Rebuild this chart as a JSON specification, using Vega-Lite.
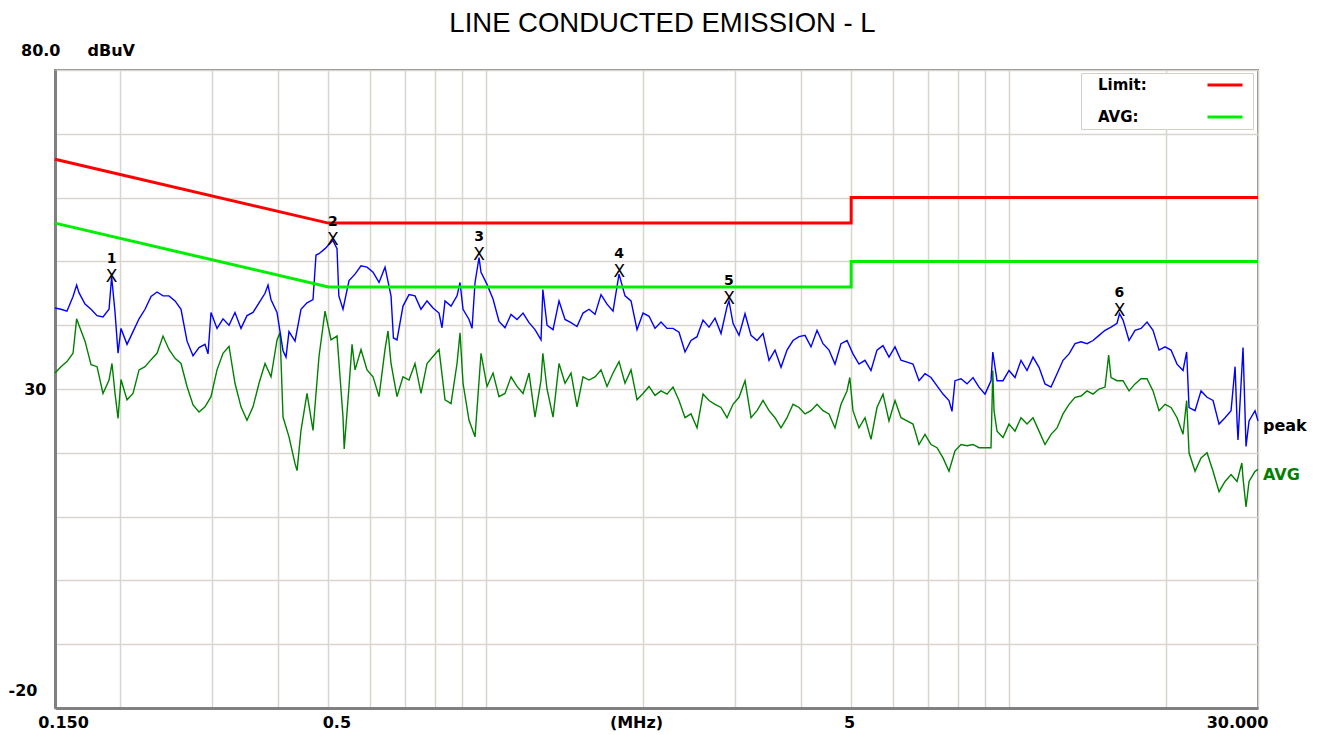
{
  "$schema": "https://vega.github.io/schema/vega-lite/v6.json",
  "width": 1203,
  "height": 638,
  "autosize": {"type": "none"},
  "padding": {"left": 55, "top": 70, "right": 62, "bottom": 27},
  "background": "white",
  "title": {"text": "LINE CONDUCTED EMISSION - L", "font": "Liberation Sans", "fontSize": 27.5, "fontWeight": "normal", "color": "black", "anchor": "middle", "baseline": "alphabetic", "offset": -17, "dx": 6},
  "config": {"view": {"stroke": "#8a8a8a", "strokeWidth": 2}},
  "datasets": {
    "limits": [
      {"s": "Limit:", "f": 0.15, "v": 66}, {"s": "Limit:", "f": 0.5, "v": 56}, {"s": "Limit:", "f": 5, "v": 56}, {"s": "Limit:", "f": 5, "v": 60}, {"s": "Limit:", "f": 30, "v": 60},
      {"s": "AVG:", "f": 0.15, "v": 56}, {"s": "AVG:", "f": 0.5, "v": 46}, {"s": "AVG:", "f": 5, "v": 46}, {"s": "AVG:", "f": 5, "v": 50}, {"s": "AVG:", "f": 30, "v": 50}
    ],
    "peak": [
      {"f":0.15,"v":42.7},{"f":0.154,"v":42.5},{"f":0.1581,"v":42.2},{"f":0.1624,"v":44.5},{"f":0.165,"v":46.3},{"f":0.1667,"v":45.1},{"f":0.1712,"v":43.3},{"f":0.1758,"v":42.5},{"f":0.1805,"v":41.5},{"f":0.1853,"v":41.3},{"f":0.1903,"v":42.5},{"f":0.1925,"v":47.6},{"f":0.1954,"v":42.0},{"f":0.198,"v":35.6},{"f":0.2006,"v":39.5},{"f":0.206,"v":37.0},{"f":0.2115,"v":39.0},{"f":0.2172,"v":41.0},{"f":0.223,"v":42.5},{"f":0.229,"v":44.5},{"f":0.2351,"v":45.2},{"f":0.2414,"v":44.6},{"f":0.2478,"v":44.6},{"f":0.2545,"v":43.8},{"f":0.2613,"v":42.5},{"f":0.2683,"v":37.5},{"f":0.2755,"v":35.2},{"f":0.2828,"v":36.5},{"f":0.2904,"v":37.0},{"f":0.2943,"v":35.5},{"f":0.2982,"v":42.0},{"f":0.3062,"v":39.5},{"f":0.3144,"v":41.0},{"f":0.3228,"v":40.0},{"f":0.3314,"v":42.0},{"f":0.3403,"v":39.5},{"f":0.3494,"v":41.5},{"f":0.3588,"v":42.0},{"f":0.3684,"v":43.5},{"f":0.3783,"v":45.0},{"f":0.3833,"v":46.3},{"f":0.3884,"v":44.0},{"f":0.3988,"v":42.0},{"f":0.4095,"v":36.0},{"f":0.4149,"v":35.0},{"f":0.4204,"v":39.0},{"f":0.4317,"v":37.5},{"f":0.4432,"v":42.5},{"f":0.4551,"v":43.5},{"f":0.4673,"v":44.0},{"f":0.4735,"v":51.0},{"f":0.4798,"v":51.2},{"f":0.4927,"v":52.0},{"f":0.5059,"v":53.0},{"f":0.51,"v":53.3},{"f":0.5194,"v":52.0},{"f":0.5236,"v":44.6},{"f":0.5333,"v":42.5},{"f":0.5476,"v":47.0},{"f":0.5623,"v":48.0},{"f":0.5773,"v":49.3},{"f":0.5928,"v":49.1},{"f":0.6087,"v":48.3},{"f":0.625,"v":46.7},{"f":0.6417,"v":49.1},{"f":0.6589,"v":44.6},{"f":0.6659,"v":38.0},{"f":0.6765,"v":37.7},{"f":0.6946,"v":43.0},{"f":0.7133,"v":44.8},{"f":0.7323,"v":44.6},{"f":0.7519,"v":42.5},{"f":0.7721,"v":43.8},{"f":0.7928,"v":42.7},{"f":0.814,"v":41.9},{"f":0.8248,"v":39.6},{"f":0.8358,"v":43.8},{"f":0.8582,"v":43.0},{"f":0.8812,"v":44.6},{"f":0.8929,"v":46.7},{"f":0.9048,"v":42.5},{"f":0.929,"v":40.9},{"f":0.9414,"v":39.5},{"f":0.9539,"v":46.7},{"f":0.9709,"v":50.6},{"f":0.9794,"v":48.3},{"f":1.0056,"v":46.4},{"f":1.0326,"v":44.1},{"f":1.0602,"v":40.6},{"f":1.0886,"v":39.6},{"f":1.1178,"v":41.7},{"f":1.1477,"v":40.9},{"f":1.1785,"v":41.9},{"f":1.21,"v":40.4},{"f":1.2423,"v":39.3},{"f":1.2756,"v":37.7},{"f":1.286,"v":45.6},{"f":1.3098,"v":40.0},{"f":1.3449,"v":39.3},{"f":1.3809,"v":43.8},{"f":1.4178,"v":40.9},{"f":1.4558,"v":40.4},{"f":1.4948,"v":39.8},{"f":1.5348,"v":41.9},{"f":1.5759,"v":42.5},{"f":1.6181,"v":41.7},{"f":1.6615,"v":44.8},{"f":1.706,"v":43.3},{"f":1.7517,"v":42.2},{"f":1.7986,"v":48.0},{"f":1.8467,"v":44.6},{"f":1.8962,"v":43.8},{"f":1.947,"v":39.3},{"f":1.9991,"v":41.9},{"f":2.0527,"v":41.4},{"f":2.1075,"v":39.5},{"f":2.164,"v":40.5},{"f":2.2219,"v":39.5},{"f":2.2814,"v":39.5},{"f":2.3425,"v":38.9},{"f":2.4053,"v":35.8},{"f":2.4697,"v":37.6},{"f":2.5358,"v":38.2},{"f":2.6037,"v":40.8},{"f":2.6734,"v":39.7},{"f":2.745,"v":41.1},{"f":2.8185,"v":38.7},{"f":2.894,"v":42.9},{"f":2.919,"v":43.8},{"f":2.9715,"v":40.3},{"f":3.0511,"v":38.4},{"f":3.1328,"v":41.8},{"f":3.2167,"v":38.4},{"f":3.3028,"v":37.6},{"f":3.3913,"v":38.7},{"f":3.4821,"v":34.5},{"f":3.575,"v":36.1},{"f":3.671,"v":33.4},{"f":3.769,"v":36.1},{"f":3.87,"v":37.6},{"f":3.974,"v":38.2},{"f":4.08,"v":38.4},{"f":4.189,"v":36.6},{"f":4.302,"v":39.2},{"f":4.417,"v":37.1},{"f":4.535,"v":36.1},{"f":4.656,"v":33.9},{"f":4.781,"v":37.1},{"f":4.909,"v":37.6},{"f":5.04,"v":35.5},{"f":5.175,"v":33.9},{"f":5.314,"v":34.5},{"f":5.456,"v":32.9},{"f":5.602,"v":36.1},{"f":5.752,"v":36.8},{"f":5.906,"v":35.0},{"f":6.065,"v":36.6},{"f":6.227,"v":34.5},{"f":6.394,"v":34.2},{"f":6.565,"v":33.9},{"f":6.741,"v":31.3},{"f":6.921,"v":32.4},{"f":7.107,"v":31.8},{"f":7.297,"v":30.5},{"f":7.492,"v":29.2},{"f":7.693,"v":28.2},{"f":7.795,"v":26.5},{"f":7.899,"v":31.3},{"f":8.111,"v":31.6},{"f":8.328,"v":30.8},{"f":8.551,"v":31.8},{"f":8.78,"v":30.3},{"f":9.015,"v":29.2},{"f":9.256,"v":31.3},{"f":9.33,"v":35.8},{"f":9.504,"v":31.3},{"f":9.759,"v":31.3},{"f":10.02,"v":32.9},{"f":10.289,"v":31.8},{"f":10.564,"v":34.5},{"f":10.847,"v":32.9},{"f":11.138,"v":35.0},{"f":11.436,"v":33.4},{"f":11.742,"v":30.8},{"f":12.057,"v":30.3},{"f":12.38,"v":32.4},{"f":12.711,"v":34.5},{"f":13.052,"v":35.5},{"f":13.401,"v":37.1},{"f":13.76,"v":37.4},{"f":14.129,"v":37.1},{"f":14.507,"v":37.6},{"f":14.896,"v":38.4},{"f":15.295,"v":39.2},{"f":15.704,"v":39.7},{"f":16.125,"v":40.3},{"f":16.3,"v":41.8},{"f":16.557,"v":40.8},{"f":17.0,"v":37.6},{"f":17.454,"v":39.2},{"f":17.922,"v":39.5},{"f":18.402,"v":40.5},{"f":18.895,"v":39.2},{"f":19.401,"v":36.1},{"f":19.92,"v":36.6},{"f":20.454,"v":36.1},{"f":21.002,"v":33.9},{"f":21.564,"v":32.9},{"f":21.91,"v":35.8},{"f":22.142,"v":27.1},{"f":22.735,"v":26.6},{"f":23.344,"v":29.7},{"f":23.969,"v":28.7},{"f":24.611,"v":28.2},{"f":25.27,"v":24.5},{"f":25.947,"v":25.5},{"f":26.642,"v":26.6},{"f":27.12,"v":33.5},{"f":27.355,"v":25.0},{"f":27.47,"v":22.0},{"f":28.088,"v":36.5},{"f":28.46,"v":21.0},{"f":28.84,"v":25.0},{"f":29.61,"v":26.6},{"f":30,"v":25.0}
    ],
    "avg": [
      {"f":0.15,"v":32.5},{"f":0.154,"v":33.5},{"f":0.1581,"v":34.3},{"f":0.1624,"v":35.6},{"f":0.165,"v":41.0},{"f":0.1667,"v":40.0},{"f":0.1712,"v":37.5},{"f":0.1758,"v":33.8},{"f":0.1805,"v":33.5},{"f":0.1853,"v":29.3},{"f":0.1903,"v":31.4},{"f":0.1928,"v":34.0},{"f":0.1954,"v":29.3},{"f":0.198,"v":25.4},{"f":0.2006,"v":31.5},{"f":0.206,"v":28.3},{"f":0.2115,"v":29.3},{"f":0.2172,"v":33.0},{"f":0.223,"v":33.5},{"f":0.229,"v":34.6},{"f":0.2351,"v":35.6},{"f":0.2414,"v":38.3},{"f":0.2478,"v":36.2},{"f":0.2545,"v":34.8},{"f":0.2613,"v":34.0},{"f":0.2683,"v":30.4},{"f":0.2755,"v":27.5},{"f":0.2828,"v":26.4},{"f":0.2904,"v":27.2},{"f":0.2982,"v":28.8},{"f":0.3062,"v":33.0},{"f":0.3144,"v":35.6},{"f":0.3228,"v":36.7},{"f":0.3314,"v":30.9},{"f":0.3403,"v":27.2},{"f":0.3494,"v":25.1},{"f":0.3588,"v":27.2},{"f":0.3684,"v":30.9},{"f":0.3783,"v":34.0},{"f":0.3884,"v":31.9},{"f":0.3988,"v":37.7},{"f":0.4041,"v":38.8},{"f":0.4095,"v":25.6},{"f":0.4204,"v":22.5},{"f":0.4317,"v":18.3},{"f":0.4356,"v":17.2},{"f":0.4432,"v":23.5},{"f":0.4551,"v":29.3},{"f":0.4673,"v":23.5},{"f":0.4798,"v":35.1},{"f":0.4927,"v":42.2},{"f":0.5059,"v":37.7},{"f":0.5194,"v":38.3},{"f":0.5333,"v":25.6},{"f":0.5361,"v":20.6},{"f":0.5476,"v":30.4},{"f":0.555,"v":37.0},{"f":0.5623,"v":33.0},{"f":0.5773,"v":36.2},{"f":0.5928,"v":33.0},{"f":0.6087,"v":31.9},{"f":0.625,"v":28.8},{"f":0.6417,"v":36.2},{"f":0.6502,"v":39.1},{"f":0.6589,"v":34.0},{"f":0.6765,"v":28.8},{"f":0.6946,"v":31.9},{"f":0.7133,"v":31.4},{"f":0.7323,"v":34.0},{"f":0.7519,"v":29.3},{"f":0.7721,"v":34.0},{"f":0.7928,"v":35.1},{"f":0.814,"v":36.2},{"f":0.8358,"v":28.3},{"f":0.8582,"v":27.7},{"f":0.8812,"v":34.0},{"f":0.8929,"v":38.8},{"f":0.9048,"v":30.9},{"f":0.929,"v":25.1},{"f":0.9539,"v":22.5},{"f":0.9794,"v":35.6},{"f":1.0056,"v":30.4},{"f":1.0326,"v":32.5},{"f":1.0602,"v":28.8},{"f":1.0886,"v":29.3},{"f":1.1178,"v":31.9},{"f":1.1477,"v":30.4},{"f":1.1785,"v":29.3},{"f":1.21,"v":32.5},{"f":1.2423,"v":25.6},{"f":1.2756,"v":31.4},{"f":1.286,"v":35.6},{"f":1.3098,"v":30.0},{"f":1.3449,"v":25.6},{"f":1.3809,"v":34.0},{"f":1.4178,"v":30.9},{"f":1.4558,"v":32.5},{"f":1.4948,"v":27.2},{"f":1.5348,"v":31.9},{"f":1.5759,"v":31.4},{"f":1.6181,"v":31.9},{"f":1.6615,"v":33.0},{"f":1.706,"v":30.4},{"f":1.7517,"v":32.5},{"f":1.7986,"v":34.3},{"f":1.8467,"v":30.9},{"f":1.8962,"v":33.0},{"f":1.947,"v":28.3},{"f":1.9991,"v":29.3},{"f":2.0527,"v":30.4},{"f":2.1075,"v":29.0},{"f":2.164,"v":29.7},{"f":2.2219,"v":29.2},{"f":2.2814,"v":30.3},{"f":2.3425,"v":28.2},{"f":2.4053,"v":25.5},{"f":2.4697,"v":26.1},{"f":2.5358,"v":23.9},{"f":2.6037,"v":29.2},{"f":2.6734,"v":28.2},{"f":2.745,"v":27.6},{"f":2.8185,"v":27.1},{"f":2.894,"v":25.5},{"f":2.9715,"v":27.6},{"f":3.0511,"v":28.7},{"f":3.1328,"v":31.3},{"f":3.2167,"v":25.5},{"f":3.3028,"v":26.6},{"f":3.3913,"v":28.2},{"f":3.4821,"v":26.6},{"f":3.575,"v":25.5},{"f":3.671,"v":23.9},{"f":3.769,"v":25.5},{"f":3.87,"v":27.6},{"f":3.974,"v":27.1},{"f":4.08,"v":26.1},{"f":4.189,"v":26.6},{"f":4.302,"v":27.6},{"f":4.417,"v":26.6},{"f":4.535,"v":26.1},{"f":4.656,"v":23.9},{"f":4.781,"v":27.6},{"f":4.909,"v":29.7},{"f":4.97,"v":31.8},{"f":5.04,"v":26.6},{"f":5.175,"v":23.9},{"f":5.314,"v":25.5},{"f":5.456,"v":22.1},{"f":5.602,"v":27.1},{"f":5.752,"v":29.2},{"f":5.906,"v":25.0},{"f":6.065,"v":28.2},{"f":6.227,"v":25.5},{"f":6.394,"v":25.0},{"f":6.565,"v":24.5},{"f":6.741,"v":21.3},{"f":6.921,"v":22.9},{"f":7.107,"v":21.3},{"f":7.297,"v":20.8},{"f":7.492,"v":19.2},{"f":7.693,"v":17.1},{"f":7.899,"v":20.3},{"f":8.111,"v":21.3},{"f":8.328,"v":21.1},{"f":8.551,"v":21.3},{"f":8.78,"v":20.8},{"f":9.015,"v":20.8},{"f":9.256,"v":20.8},{"f":9.33,"v":32.9},{"f":9.38,"v":26.6},{"f":9.504,"v":23.4},{"f":9.759,"v":22.4},{"f":10.02,"v":24.5},{"f":10.289,"v":23.4},{"f":10.564,"v":25.5},{"f":10.847,"v":24.5},{"f":11.138,"v":25.5},{"f":11.436,"v":23.4},{"f":11.742,"v":21.3},{"f":12.057,"v":22.9},{"f":12.38,"v":23.9},{"f":12.711,"v":26.1},{"f":13.052,"v":27.6},{"f":13.401,"v":28.7},{"f":13.76,"v":28.9},{"f":14.129,"v":29.7},{"f":14.507,"v":29.2},{"f":14.896,"v":30.0},{"f":15.295,"v":30.3},{"f":15.54,"v":35.3},{"f":15.704,"v":31.8},{"f":16.125,"v":31.3},{"f":16.557,"v":31.3},{"f":17.0,"v":29.7},{"f":17.454,"v":30.8},{"f":17.922,"v":31.6},{"f":18.402,"v":31.6},{"f":18.895,"v":29.7},{"f":19.401,"v":26.6},{"f":19.92,"v":27.6},{"f":20.454,"v":27.1},{"f":21.002,"v":25.5},{"f":21.564,"v":22.9},{"f":21.91,"v":28.2},{"f":22.142,"v":20.0},{"f":22.735,"v":17.1},{"f":23.344,"v":19.2},{"f":23.969,"v":20.0},{"f":24.611,"v":17.1},{"f":25.27,"v":13.9},{"f":25.947,"v":15.5},{"f":26.642,"v":16.6},{"f":27.355,"v":15.5},{"f":27.94,"v":18.4},{"f":28.088,"v":16.0},{"f":28.46,"v":11.5},{"f":28.84,"v":15.5},{"f":29.61,"v":17.1},{"f":30,"v":17.4}
    ],
    "markers": [
      {"f": 0.1925, "v": 47.6, "n": "1"}, {"f": 0.51, "v": 53.3, "n": "2"}, {"f": 0.9709, "v": 51.0, "n": "3"},
      {"f": 1.80, "v": 48.3, "n": "4"}, {"f": 2.919, "v": 44.1, "n": "5"}, {"f": 16.3, "v": 42.3, "n": "6"}
    ],
    "endlabels": [
      {"f": 30, "v": 24.2, "t": "peak"}, {"f": 30, "v": 16.5, "t": "AVG"}
    ]
  },
  "encoding": {
    "x": {
      "field": "f", "type": "quantitative",
      "scale": {"type": "log", "domain": [0.15, 30], "nice": false},
      "axis": {
        "values": [0.15, 0.2, 0.3, 0.4, 0.5, 0.6, 0.7, 0.8, 0.9, 1, 2, 3, 4, 5, 6, 7, 8, 9, 10, 20, 30],
        "labelExpr": "datum.value == 0.15 ? '0.150' : datum.value == 0.5 ? '0.5' : datum.value == 5 ? '5' : datum.value == 30 ? '30.000' : ''",
        "labelFont": "DejaVu Sans", "labelFontWeight": "bold", "labelFontSize": 16, "labelColor": "black",
        "labelBaseline": "middle", "labelPadding": 14, "labelFlush": false, "labelOverlap": false,
        "labelOffset": {"condition": [{"test": "datum.value == 30", "value": -21}, {"test": "datum.value == 5", "value": -2}], "value": 8},
        "ticks": false, "tickSize": 0,
        "domain": true, "domainColor": "#808080", "domainWidth": 3,
        "grid": true, "gridColor": "#d9d5cd", "gridWidth": 1.5,
        "title": "(MHz)", "titleFont": "DejaVu Sans", "titleFontWeight": "bold", "titleFontSize": 16, "titleColor": "black",
        "titleX": 581, "titleY": 14, "titleAlign": "center", "titleBaseline": "middle"
      }
    },
    "y": {
      "field": "v", "type": "quantitative",
      "scale": {"domain": [-20, 80], "nice": false, "zero": false},
      "axis": {
        "values": [-20, -10, 0, 10, 20, 30, 40, 50, 60, 70, 80],
        "labelExpr": "datum.value == 80 ? '80.0' : datum.value == 30 ? '30' : datum.value == -20 ? '-20' : ''",
        "labelFont": "DejaVu Sans", "labelFontWeight": "bold", "labelFontSize": 16, "labelColor": "black",
        "labelAlign": "right", "labelBaseline": "middle", "labelFlush": false, "labelOverlap": false,
        "labelPadding": {"condition": [{"test": "datum.value == 80", "value": -5}, {"test": "datum.value == -20", "value": 18}], "value": 9},
        "labelOffset": {"condition": [{"test": "datum.value == 80", "value": -20}, {"test": "datum.value == -20", "value": -18}], "value": 0},
        "ticks": false, "tickSize": 0,
        "domain": true, "domainColor": "#808080", "domainWidth": 3,
        "grid": true, "gridColor": "#d9d5cd", "gridWidth": 1.5,
        "title": "dBuV", "titleFont": "DejaVu Sans", "titleFontWeight": "bold", "titleFontSize": 16, "titleColor": "black",
        "titleAngle": 0, "titleX": 32, "titleY": -20, "titleAlign": "left", "titleBaseline": "middle"
      }
    }
  },
  "layer": [
    {
      "data": {"name": "avg"},
      "mark": {"type": "line", "color": "#008000", "strokeWidth": 1.4}
    },
    {
      "data": {"name": "peak"},
      "mark": {"type": "line", "color": "#0000ff", "strokeWidth": 1.4}
    },
    {
      "data": {"name": "limits"},
      "mark": {"type": "line", "strokeWidth": 3},
      "encoding": {
        "color": {
          "field": "s", "type": "nominal",
          "scale": {"domain": ["Limit:", "AVG:"], "range": ["#ff0000", "#00ee00"]},
          "legend": {
            "orient": "none", "legendX": 1026, "legendY": 3, "title": null,
            "symbolType": "stroke", "symbolSize": 100, "symbolStrokeWidth": 3,
            "labelFont": "DejaVu Sans", "labelFontWeight": "bold", "labelFontSize": 15, "labelColor": "black",
            "padding": 4, "rowPadding": 16, "fillColor": "white", "strokeColor": "#d4d0c8",
            "encode": {"symbols": {"update": {"x": {"value": 140}, "y": {"value": 8}, "size": {"value": 1225}}}, "labels": {"update": {"x": {"value": 13}, "y": {"value": 8}}}}
          }
        }
      }
    },
    {
      "data": {"name": "markers"},
      "mark": {"type": "text", "text": "X", "font": "DejaVu Sans", "fontSize": 17, "color": "black", "baseline": "middle", "align": "center"}
    },
    {
      "data": {"name": "markers"},
      "mark": {"type": "text", "font": "DejaVu Sans", "fontSize": 14, "fontWeight": "bold", "color": "black", "baseline": "middle", "align": "center", "dy": -18},
      "encoding": {"text": {"field": "n"}}
    },
    {
      "data": {"name": "endlabels"},
      "transform": [{"filter": "datum.t == 'peak'"}],
      "mark": {"type": "text", "font": "DejaVu Sans", "fontSize": 16, "fontWeight": "bold", "color": "black", "baseline": "middle", "align": "left", "dx": 5, "clip": false},
      "encoding": {"text": {"field": "t"}}
    },
    {
      "data": {"name": "endlabels"},
      "transform": [{"filter": "datum.t == 'AVG'"}],
      "mark": {"type": "text", "font": "DejaVu Sans", "fontSize": 16, "fontWeight": "bold", "color": "#008000", "baseline": "middle", "align": "left", "dx": 5, "clip": false},
      "encoding": {"text": {"field": "t"}}
    }
  ]
}
